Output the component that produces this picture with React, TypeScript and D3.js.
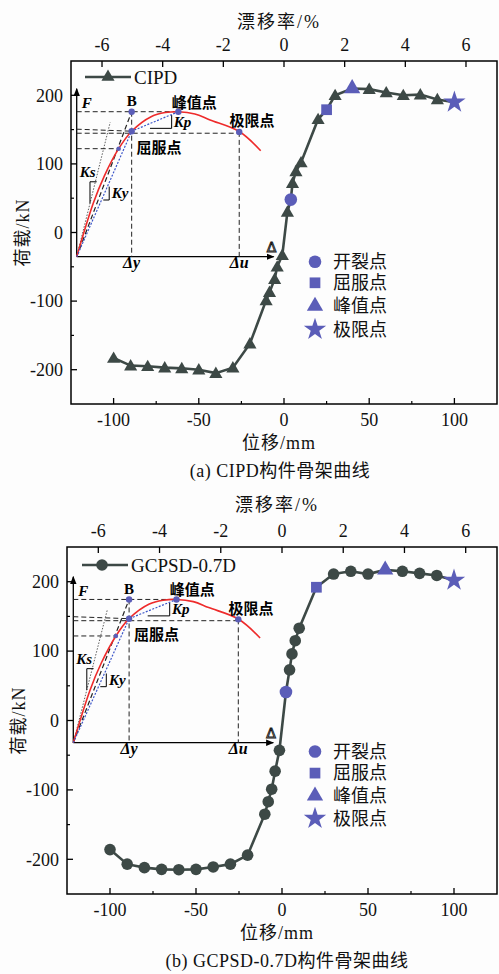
import React from 'react';
import * as d3 from 'd3';

// ---------- data ----------
const cipdDisp = [-100, -90, -80, -70, -60, -50, -40, -30, -20, -10.5, -8.5, -5.5, -4, -1, 2, 4, 5, 7, 10, 20, 25, 30, 40, 50, 60, 70, 80, 90, 100];
const cipdLoad = [-183, -194, -195, -197, -198, -200, -205, -197, -162, -99, -87, -68, -50, -33, 30, 48, 72, 89, 102, 165, 179, 200, 210, 209, 204, 200, 201, 194, 190];
const cipdSpecial = [4, 25, 40, 100]; // crack, yield, peak, ultimate (displacement)

const gcDisp = [-100, -90, -80, -70, -60, -50, -40, -30, -20, -10, -8, -6, -4, -1.5, 2.3, 4.4, 5.8, 7.7, 10, 20, 30, 40, 50, 60, 70, 80, 90, 100];
const gcLoad = [-186, -207, -212, -214.5, -215, -214.5, -211, -207, -194, -135, -117, -99, -73, -43, 41, 73, 96, 115, 133, 192, 211, 215, 211, 217, 215, 212, 209, 202];
const gcSpecial = [2.3, 20, 60, 100];

const dispTicks = [-100, -50, 0, 50, 100];
const dispMinor = [-75, -25, 25, 75];
const loadTicks = [-200, -100, 0, 100, 200];
const loadMinor = [-150, -50, 50, 150];
const driftTicks = [-6, -4, -2, 0, 2, 4, 6];
const legendNames = ['开裂点', '屈服点', '峰值点', '极限点'];
const seriesNames = ['CIPD', 'GCPSD-0.7D'];
const captions = ['(a) CIPD构件骨架曲线', '(b) GCPSD-0.7D构件骨架曲线'];
const mmPerDrift = 17.8;

// schematic (inset) curve in arbitrary units (0..100)
const schemCurveD = [0, 8.4, 14, 21.3, 27.9, 38, 45, 51.6, 60, 67.7, 82.5, 93.4];
const schemCurveF = [0, 31.8, 48, 64.3, 74.7, 83.5, 85.8, 86.3, 85, 81.4, 74.5, 63.1];
const schemB = [27.9, 86.3];
const schemPeak = [51.6, 86.3];
const schemYield = [27.9, 74.7];
const schemUlt = [82.5, 74.3];
const schemSmall = [21.3, 64.3];
const schemKs = [17, 80];

// ---------- style ----------
const SERIF = '"Liberation Serif","Times New Roman",serif';
const CJK = '"Liberation Serif","Noto Sans CJK SC",serif';
const DARK = '#3d4946';
const BLUE = '#5b5db8';
const RED = '#ee2b2b';
const BLUE_LINE = '#3b55c8';

type PanelCfg = {
  idx: number;
  left: number; right: number; top: number; bottom: number;
  disp: number[]; load: number[]; special: number[];
  symbol: 'tri' | 'circle';
  inset: { ox: number; oy: number; kx: number; ky: number };
  legendY: number; legendX0: number;
  rightLegendOffsets: number[];
};

const panels: PanelCfg[] = [
  {
    idx: 0, left: 71, right: 497, top: 61, bottom: 404,
    disp: cipdDisp, load: cipdLoad, special: cipdSpecial, symbol: 'tri',
    inset: { ox: 76.7, oy: 256.7, kx: 1.97, ky: 1.68 },
    legendY: 77, legendX0: 85,
    rightLegendOffsets: [29.3, 50.3, 73.6, 96.9],
  },
  {
    idx: 1, left: 67, right: 497, top: 547, bottom: 894,
    disp: gcDisp, load: gcLoad, special: gcSpecial, symbol: 'circle',
    inset: { ox: 73.3, oy: 742.7, kx: 2.0, ky: 1.66 },
    legendY: 565, legendX0: 82,
    rightLegendOffsets: [31, 52.6, 75.3, 98],
  },
];

const specialSymbols = [d3.symbolCircle, d3.symbolSquare, d3.symbolTriangle, d3.symbolStar];
const specialSizes = [125, 115, 115, 155];

function Inset({ cfg }: { cfg: PanelCfg }) {
  const { ox, oy, kx, ky } = cfg.inset;
  const sx = d3.scaleLinear().domain([0, 100]).range([ox, ox + 100 * kx]);
  const sy = d3.scaleLinear().domain([0, 100]).range([oy, oy - 100 * ky]);
  const id = 'arr' + cfg.idx;
  const line = d3.line<number[]>().x((p) => sx(p[0])).y((p) => sy(p[1]));
  const curve = d3.line<number>().x((_, i) => sx(schemCurveD[i])).y((_, i) => sy(schemCurveF[i])).curve(d3.curveCatmullRom.alpha(0.5));
  const dash = '5,3';
  const lbl = { fontFamily: SERIF, fontWeight: 700, fontStyle: 'italic' as const };
  return (
    <g>
      <defs>
        <marker id={id} viewBox="0 0 10 10" refX="9" refY="5" markerWidth="8" markerHeight="8" markerUnits="userSpaceOnUse" orient="auto">
          <path d="M0,1 L10,5 L0,9 Z" fill="#000" />
        </marker>
      </defs>
      {/* axes */}
      <line x1={sx(0)} y1={sy(0)} x2={sx(100)} y2={sy(0)} stroke="#000" strokeWidth={1.3} markerEnd={`url(#${id})`} />
      <line x1={sx(0)} y1={sy(0)} x2={sx(0)} y2={sy(100)} stroke="#000" strokeWidth={1.3} markerEnd={`url(#${id})`} />
      {/* dashed guides */}
      <g stroke="#222" strokeWidth={1} strokeDasharray={dash} fill="none">
        <path d={line([[0, schemB[1]], schemPeak])!} />
        <path d={line([[0, schemYield[1] + 1.2], schemYield])!} />
        <path d={line([[0, schemUlt[1] - 0.8], [schemUlt[0], schemUlt[1] - 0.8]])!} />
        <path d={line([[0, schemSmall[1]], schemSmall])!} />
        <path d={line([schemB, [schemB[0], 0]])!} />
        <path d={line([schemUlt, [schemUlt[0], 0]])!} />
        <path d={line([[0, 0], schemB])!} strokeWidth={1.2} />
      </g>
      <path d={line([[0, 0], schemKs])!} stroke="#333" strokeWidth={0.8} strokeDasharray="1.5,1.5" fill="none" />
      {/* slope markers */}
      <g stroke="#000" strokeWidth={1} fill="none">
        <path d={line([[6.75, 31.8], [6.75, 44.6], [10.15, 44.6]])!} />
        <path d={line([[13.5, 33.75], [16.5, 33.75], [16.5, 41.7]])!} />
        <path d={line([[37.2, 76.4], [48.2, 76.4], [48.2, 84.3]])!} />
      </g>
      {/* curves */}
      <path d={curve(schemCurveD)!} stroke={RED} strokeWidth={1.6} fill="none" />
      <path d={line([[0, 0], schemYield, schemPeak])!} stroke={BLUE_LINE} strokeWidth={1.2} strokeDasharray="2,1.5" fill="none" />
      {[schemB, schemPeak, schemYield, schemUlt, schemSmall].map((p, i) => (
        <circle key={i} cx={sx(p[0])} cy={sy(p[1])} r={i === 4 ? 2.3 : 3.2} fill={BLUE} />
      ))}
      {/* labels */}
      <text x={sx(2.5)} y={sy(88.5)} fontSize={15} {...lbl}>F</text>
      <text x={sx(schemB[0])} y={sy(89.8)} fontSize={15} fontFamily={SERIF} fontWeight={700} textAnchor="middle">B</text>
      <text x={sx(48.2)} y={sy(88.8)} fontSize={15} fontFamily={CJK} fontWeight={700}>峰值点</text>
      <text x={sx(77.6)} y={sy(77.6)} fontSize={15} fontFamily={CJK} fontWeight={700}>极限点</text>
      <text x={sx(30.3)} y={sy(62)} fontSize={15} fontFamily={CJK} fontWeight={700}>屈服点</text>
      <text x={sx(49.3)} y={sy(77.3)} fontSize={15} {...lbl}>Kp</text>
      <text x={sx(1.5)} y={sy(47.6)} fontSize={15} {...lbl}>Ks</text>
      <text x={sx(17.8)} y={sy(35)} fontSize={15} {...lbl}>Ky</text>
      <text x={sx(schemB[0])} y={sy(-7)} fontSize={16} textAnchor="middle" {...lbl}>Δy</text>
      <text x={sx(schemUlt[0])} y={sy(-7)} fontSize={16} textAnchor="middle" {...lbl}>Δu</text>
      <text x={sx(96.5)} y={sy(2.8)} fontSize={14} fontFamily='"DejaVu Sans",sans-serif' fill="none" stroke="#111" strokeWidth={0.9}>Δ</text>
    </g>
  );
}

function Panel({ cfg }: { cfg: PanelCfg }) {
  const x = d3.scaleLinear().domain([-125, 125]).range([cfg.left, cfg.right]);
  const y = d3.scaleLinear().domain([-250, 250]).range([cfg.bottom, cfg.top]);
  const xd = d3.scaleLinear().domain([-125 / mmPerDrift, 125 / mmPerDrift]).range([cfg.left, cfg.right]);
  const pts = cfg.disp.map((d, i) => [d, cfg.load[i]]);
  const path = d3.line<number[]>().x((p) => x(p[0])).y((p) => y(p[1]))(pts)!;
  const triPath = d3.symbol().type(d3.symbolTriangle).size(75)()!;
  const legendSym = cfg.symbol === 'tri' ? triPath : null;
  const midX = (cfg.left + cfg.right) / 2 - 5;
  const tickStyle = { fontFamily: SERIF, fontSize: 18, fill: '#111' };
  const cjkStyle = { fontFamily: CJK, fontSize: 18, fill: '#111' };
  const specialPts = cfg.special.map((d) => pts.find((p) => p[0] === d)!);
  return (
    <g>
      <Inset cfg={cfg} />
      {/* frame */}
      <rect x={cfg.left} y={cfg.top} width={cfg.right - cfg.left} height={cfg.bottom - cfg.top} fill="none" stroke="#000" strokeWidth={1.5} />
      {/* bottom axis */}
      {dispTicks.map((t) => (
        <g key={'bx' + t}>
          <line x1={x(t)} x2={x(t)} y1={cfg.bottom} y2={cfg.bottom - 6} stroke="#000" strokeWidth={1.3} />
          <text x={x(t)} y={cfg.bottom + 22} textAnchor="middle" {...tickStyle}>{t < 0 ? '-' + Math.abs(t) : t}</text>
        </g>
      ))}
      {dispMinor.map((t) => (
        <line key={'bm' + t} x1={x(t)} x2={x(t)} y1={cfg.bottom} y2={cfg.bottom - 3} stroke="#000" strokeWidth={1.2} />
      ))}
      <text x={midX} y={cfg.bottom + 45} textAnchor="middle" {...cjkStyle} letterSpacing={1}>位移/mm</text>
      {/* top axis */}
      {driftTicks.map((t) => (
        <g key={'tx' + t}>
          <line x1={xd(t)} x2={xd(t)} y1={cfg.top} y2={cfg.top + 6} stroke="#000" strokeWidth={1.3} />
          <text x={xd(t)} y={cfg.top - 10} textAnchor="middle" {...tickStyle}>{t < 0 ? '-' + Math.abs(t) : t}</text>
        </g>
      ))}
      <text x={midX} y={cfg.top - 33 - cfg.idx * 3} textAnchor="middle" {...cjkStyle} letterSpacing={2}>漂移率/%</text>
      {/* left axis */}
      {loadTicks.map((t) => (
        <g key={'ly' + t}>
          <line x1={cfg.left} x2={cfg.left + 6} y1={y(t)} y2={y(t)} stroke="#000" strokeWidth={1.3} />
          <text x={cfg.left - 8} y={y(t)} dy="0.35em" textAnchor="end" {...tickStyle}>{t < 0 ? '-' + Math.abs(t) : t}</text>
        </g>
      ))}
      {loadMinor.map((t) => (
        <line key={'lm' + t} x1={cfg.left} x2={cfg.left + 3} y1={y(t)} y2={y(t)} stroke="#000" strokeWidth={1.2} />
      ))}
      <text transform={`translate(${cfg.left - 48},${y(0)}) rotate(-90)`} textAnchor="middle" dy="0.35em" {...cjkStyle} letterSpacing={1}>荷载/kN</text>
      {/* caption */}
      <text x={cfg.idx === 0 ? 280 : 287} y={cfg.bottom + 73} textAnchor="middle" {...cjkStyle} fontSize={18} letterSpacing={0.5}>{captions[cfg.idx]}</text>
      {/* series */}
      <path d={path} fill="none" stroke={DARK} strokeWidth={2.6} />
      {pts.filter((p) => !cfg.special.includes(p[0])).map((p, i) =>
        cfg.symbol === 'tri' ? (
          <path key={i} d={triPath} transform={`translate(${x(p[0])},${y(p[1]) + 1})`} fill={DARK} />
        ) : (
          <circle key={i} cx={x(p[0])} cy={y(p[1])} r={5.8} fill={DARK} />
        )
      )}
      {specialPts.map((p, i) => (
        <path key={'s' + i} d={d3.symbol().type(specialSymbols[i]).size(specialSizes[i])()!} transform={`translate(${x(p[0])},${y(p[1])})`} fill={BLUE} />
      ))}
      {/* series legend */}
      <line x1={cfg.legendX0} x2={cfg.legendX0 + 46} y1={cfg.legendY} y2={cfg.legendY} stroke={DARK} strokeWidth={2.6} />
      {legendSym ? (
        <path d={legendSym} transform={`translate(${cfg.legendX0 + 23},${cfg.legendY})`} fill={DARK} />
      ) : (
        <circle cx={cfg.legendX0 + 20} cy={cfg.legendY} r={5.8} fill={DARK} />
      )}
      <text x={cfg.legendX0 + 49} y={cfg.legendY} dy="0.35em" fontFamily={SERIF} fontSize={19} fill="#111">{seriesNames[cfg.idx]}</text>
      {/* special point legend */}
      {legendNames.map((n, i) => (
        <g key={n} transform={`translate(315,${y(0) + cfg.rightLegendOffsets[i]})`}>
          <path d={d3.symbol().type(specialSymbols[i]).size(specialSizes[i])()!} fill={BLUE} />
          <text x={18} dy="0.35em" {...cjkStyle}>{n}</text>
        </g>
      ))}
    </g>
  );
}

export default function App() {
  return (
    <svg width={499} height={974} style={{ position: 'absolute', left: 0, top: 0, background: '#fff' }}>
      <rect width={499} height={974} fill="#fdfdfd" />
      {panels.map((p) => (
        <Panel key={p.idx} cfg={p} />
      ))}
    </svg>
  );
}
